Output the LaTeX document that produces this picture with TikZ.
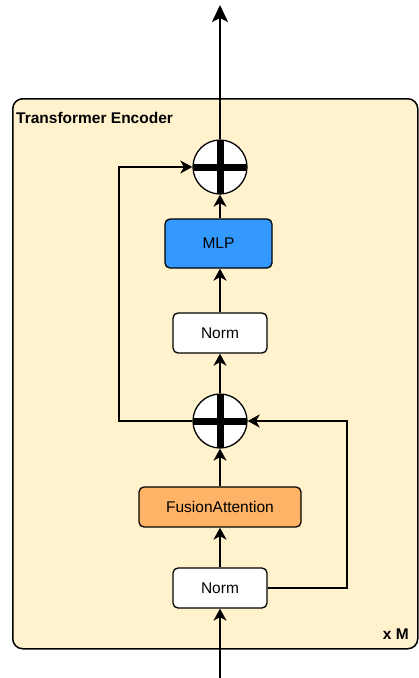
\documentclass[tikz,border=0pt]{standalone}
\usepackage{fontspec}
\setmainfont{Liberation Sans}
\usetikzlibrary{arrows.meta}
\definecolor{encbg}{HTML}{FFF2CC}
\definecolor{mlpblue}{HTML}{3399FF}
\definecolor{faorange}{HTML}{FFB366}
\begin{document}
\begin{tikzpicture}[x=1pt,y=-1pt,
  blockbox/.style={draw=black,line width=1.3pt,rounded corners=5pt,inner sep=0pt,font=\fontsize{15.5}{18}\selectfont},
  sumnode/.style={circle,draw=black,line width=1.3pt,fill=white,minimum size=54pt,inner sep=0pt,
    path picture={\draw[line width=7pt] (path picture bounding box.north) -- (path picture bounding box.south);
                  \draw[line width=7pt] (path picture bounding box.west) -- (path picture bounding box.east);}},
  flow/.style={line width=1.8pt,-{Stealth[length=12pt,width=13pt,inset=3.5pt]}},
  bigflow/.style={line width=1.8pt,-{Stealth[length=17pt,width=16pt,inset=4pt]}}]
\useasboundingbox (0,0) rectangle (419,678);
\node[draw=black,line width=1.5pt,fill=encbg,rounded corners=10pt,minimum width=405pt,minimum height=550pt,anchor=north west,inner sep=0pt] (enc) at (12,98) {};
\node[anchor=base west,font=\bfseries\fontsize{15.5}{18}\selectfont,inner sep=0pt] (title) at (16,123) {Transformer Encoder};
\node[anchor=base east,font=\bfseries\fontsize{15.5}{18}\selectfont,inner sep=0pt] (xm) at (409,639) {x M};
\node[blockbox,fill=white,minimum width=94pt,minimum height=40pt] (norm1) at (220,588) {Norm};
\node[blockbox,fill=faorange,minimum width=162pt,minimum height=40pt] (fa) at (220,507) {FusionAttention};
\node[sumnode] (sum1) at (220,421) {};
\node[blockbox,fill=white,minimum width=94pt,minimum height=40pt] (norm2) at (220,333) {Norm};
\node[blockbox,fill=mlpblue,minimum width=107pt,minimum height=49pt] (mlp) at (218.5,243.5) {MLP};
\node[sumnode] (sum2) at (220,167) {};
\coordinate (bin) at (220,678);
\coordinate (tout) at (220,5);
\coordinate (l1) at (119,421);
\coordinate (l2) at (119,167);
\coordinate (r1) at (347,588);
\coordinate (r2) at (347,421);
\draw[flow] (bin) -- (norm1.south);
\draw[flow] (norm1.north) -- (fa.south);
\draw[flow] (fa.north) -- (sum1.south);
\draw[flow] (sum1.north) -- (norm2.south);
\draw[flow] (norm2.north) -- (mlp.south -| norm2.north);
\draw[flow] (mlp.north -| sum2.south) -- (sum2.south);
\draw[bigflow] (sum2.north) -- (tout);
\draw[flow] (norm1.east) -- (r1) -- (r2) -- (sum1.east);
\draw[flow] (sum1.west) -- (l1) -- (l2) -- (sum2.west);
\end{tikzpicture}
\end{document}
